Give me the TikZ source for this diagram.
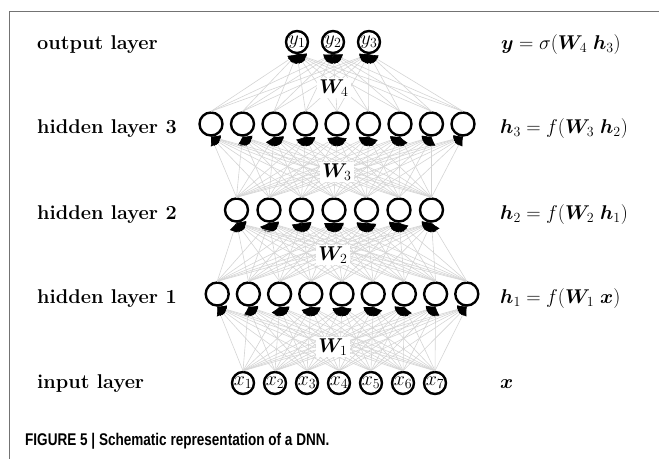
\RequirePackage{fix-cm}
\documentclass[tikz,border=0pt]{standalone}
\usepackage{amsmath,bm}
\usepackage{fontspec}
\newfontfamily\capfont[FakeStretch=0.80]{Liberation Sans}
\usetikzlibrary{arrows.meta}
\begin{document}
\begin{tikzpicture}[x=1bp,y=-1bp,
  neuron/.style={circle,draw,line width=2.4bp,inner sep=0pt,minimum size=23bp,font=\fontsize{20}{24}\selectfont},
  smallneuron/.style={neuron,minimum size=22bp},
  wedge/.style={draw=black!17,line width=0.6bp,-{Latex[length=9bp,width=8bp,color=black]}},
  lab/.style={anchor=base west,font=\fontsize{20}{24}\selectfont\bfseries,inner sep=0pt},
  eq/.style={anchor=base west,font=\fontsize{20}{24}\selectfont,inner sep=0pt},
  wlab/.style={fill=white,inner sep=2bp,font=\fontsize{20}{24}\selectfont}]
\useasboundingbox (0,0) rectangle (659,459);
\draw[black!55,line width=1bp] (9,459) -- (9,12) -- (659,12);
% nodes
\foreach \i in {1,2,3} \node[smallneuron] (o\i) at ({261+36*\i},42) {$y_{\i}$};
\foreach \i in {1,...,9} \node[neuron] (a\i) at ({337+31.5*(\i-5)},124) {};
\foreach \i in {1,...,7} \node[neuron] (b\i) at ({334+32.5*(\i-4)},210) {};
\foreach \i in {1,...,9} \node[neuron] (c\i) at ({342+31.2*(\i-5)},294) {};
\foreach \i in {1,...,7} \node[smallneuron] (x\i) at ({211+32*\i},383) {$x_{\i}$};
% edges
\foreach \i in {1,...,7} \foreach \j in {1,...,9} \draw[wedge] (x\i.north) -- (c\j.south);
\foreach \i in {1,...,9} \foreach \j in {1,...,7} \draw[wedge] (c\i.north) -- (b\j.south);
\foreach \i in {1,...,7} \foreach \j in {1,...,9} \draw[wedge] (b\i.north) -- (a\j.south);
\foreach \i in {1,...,9} \foreach \j in {1,2,3} \draw[wedge] (a\i.north) -- (o\j.south);
% weight labels
\node[wlab] (w4) at (334,88) {$\boldsymbol{W}_4$};
\node[wlab] (w3) at (337,172) {$\boldsymbol{W}_3$};
\node[wlab] (w2) at (333,255) {$\boldsymbol{W}_2$};
\node[wlab] (w1) at (333,347) {$\boldsymbol{W}_1$};
% layer labels
\node[lab] (l4) at (37,50) {output layer};
\node[lab] (l3) at (37,134) {hidden layer 3};
\node[lab] (l2) at (37,220) {hidden layer 2};
\node[lab] (l1) at (37,304) {hidden layer 1};
\node[lab] (l0) at (37,388) {input layer};
% equations
\node[eq] (e4) at (501,50) {$\boldsymbol{y} = \sigma(\boldsymbol{W}_4\ \boldsymbol{h}_3)$};
\node[eq] (e3) at (500,134) {$\boldsymbol{h}_3 = f(\boldsymbol{W}_3\ \boldsymbol{h}_2)$};
\node[eq] (e2) at (500,220) {$\boldsymbol{h}_2 = f(\boldsymbol{W}_2\ \boldsymbol{h}_1)$};
\node[eq] (e1) at (500,304) {$\boldsymbol{h}_1 = f(\boldsymbol{W}_1\ \boldsymbol{x})$};
\node[eq] (e0) at (500,388) {$\boldsymbol{x}$};
% caption
\node[anchor=base west,inner sep=0pt,font=\capfont\bfseries\fontsize{17}{20}\selectfont] (cap) at (25,445) {FIGURE 5 | Schematic representation of a DNN.};
\end{tikzpicture}
\end{document}
